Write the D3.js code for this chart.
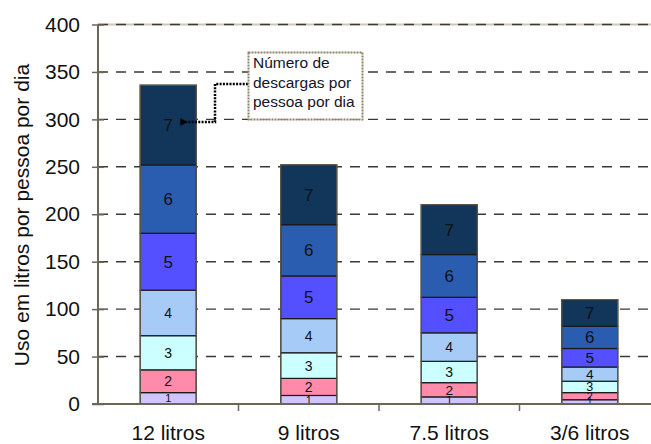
<!DOCTYPE html>
<html><head><meta charset="utf-8">
<script src="https://cdn.jsdelivr.net/npm/d3@7"></script>
<style>body{margin:0;background:#fff}svg{display:block}text{font-family:"Liberation Sans",Arial,sans-serif}</style>
</head><body><svg id="c" width="651" height="444"></svg>
<script>
const categories = ["12 litros", "9 litros", "7.5 litros", "3/6 litros"];
const seriesNames = ["1", "2", "3", "4", "5", "6", "7"];
const v12 = [12, 24, 36, 48, 60, 72, 84];
const v9 = [9, 18, 27, 36, 45, 54, 63];
const v75 = [7.5, 15, 22.5, 30, 37.5, 45, 52.5];
const v36 = [4.5, 7.5, 12, 15, 19.5, 23.5, 28];
const yTicks = [0, 50, 100, 150, 200, 250, 300, 350, 400];
const colors = ["#d0c4fc", "#ff8aaa", "#ccffff", "#a6cbf6", "#5550ff", "#2a5cb0", "#12355a"];
const baseFont = [11, 14, 14, 14, 17, 17, 17];
const noteLines = ["Número de", "descargas por", "pessoa por dia"];
const yTitle = "Uso em litros por pessoa por dia";

const values = [v12, v9, v75, v36];
const rows = categories.map((c, i) => {
  const o = {cat: c};
  seriesNames.forEach((s, k) => o[s] = values[i][k]);
  return o;
});
const stacked = d3.stack().keys(seriesNames)(rows);

const svg = d3.select("#c");
const x = d3.scaleBand().domain(categories).range([98, 660]).paddingInner(0).paddingOuter(0);
const y = d3.scaleLinear().domain([0, 400]).range([404, 24.5]);
const barW = 56;

// gridlines
const g = svg.append("g");
g.append("line").attr("x1", 98).attr("x2", 651).attr("y1", y(400)).attr("y2", y(400))
  .attr("stroke", "#cfc8b0").attr("stroke-width", 2);
g.selectAll("line.grid").data(yTicks.filter(d => d > 0)).join("line").attr("class", "grid")
  .attr("x1", 98).attr("x2", 651).attr("y1", d => y(d)).attr("y2", d => y(d))
  .attr("stroke", "#3a3a32").attr("stroke-width", 1.4).attr("stroke-dasharray", "10,8");

// bars
const layers = svg.append("g").selectAll("g").data(stacked).join("g")
  .attr("fill", (d, i) => colors[i]);
layers.selectAll("rect").data(d => d.map(p => ({p, key: d.key}))).join("rect")
  .attr("x", d => x(d.p.data.cat) + x.bandwidth() / 2 - barW / 2)
  .attr("width", barW)
  .attr("y", d => y(d.p[1]))
  .attr("height", d => y(d.p[0]) - y(d.p[1]))
  .attr("stroke", "#1a1a1a").attr("stroke-width", 1.2);
// outer outline
svg.append("g").selectAll("rect").data(rows).join("rect")
  .attr("x", d => x(d.cat) + x.bandwidth() / 2 - barW / 2)
  .attr("width", barW)
  .attr("y", (d, i) => y(stacked[6][i][1]))
  .attr("height", (d, i) => y(0) - y(stacked[6][i][1]))
  .attr("fill", "none").attr("stroke", "#5e5c4e").attr("stroke-width", 1.2);

// labels
svg.append("g").selectAll("g").data(stacked).join("g")
  .selectAll("text").data((d, k) => d.map(p => ({p, k}))).join("text")
  .attr("x", d => x(d.p.data.cat) + x.bandwidth() / 2)
  .attr("y", d => (y(d.p[0]) + y(d.p[1])) / 2)
  .attr("text-anchor", "middle").attr("dy", "0.36em")
  .attr("font-size", d => {
    const h = y(d.p[0]) - y(d.p[1]);
    return Math.max(10, Math.min(baseFont[d.k], 8 + h * 0.4)) + "px";
  })
  .attr("fill", "#111")
  .text(d => seriesNames[d.k]);

// y axis
const ya = svg.append("g").attr("transform", "translate(98,0)")
  .call(d3.axisLeft(y).tickValues(yTicks).tickSize(6).tickPadding(12));
ya.select(".domain").attr("stroke", "#6b6656").attr("stroke-width", 2).attr("d", `M0,${y(0)}V${y(400)}`);
ya.selectAll(".tick line").attr("x1", -6).attr("x2", 6).attr("stroke", "#6b6656").attr("stroke-width", 1.5);
ya.selectAll(".tick text").attr("font-size", "21px").attr("fill", "#111")
  .attr("font-family", '"Liberation Sans",Arial,sans-serif').attr("x", -18);

// x axis
const xa = svg.append("g").attr("transform", `translate(0,${y(0)})`)
  .call(d3.axisBottom(x).tickSize(0).tickPadding(30));
xa.select(".domain").attr("stroke", "#6b6656").attr("stroke-width", 2).attr("d", "M92,0H651");
xa.selectAll(".tick text").attr("font-size", "21px").attr("fill", "#111")
  .attr("font-family", '"Liberation Sans",Arial,sans-serif').attr("dy", "0.3em");
xa.selectAll("line.sep").data(categories.slice(1)).join("line").attr("class", "sep")
  .attr("x1", d => x(d)).attr("x2", d => x(d)).attr("y1", 0).attr("y2", 7)
  .attr("stroke", "#6b6656").attr("stroke-width", 1.5);

// y title
svg.append("text").attr("transform", "translate(22,215) rotate(-90)")
  .attr("text-anchor", "middle").attr("dy", "0.35em").attr("font-size", "21px").attr("fill", "#111")
  .text(yTitle);

// annotation
const defs = svg.append("defs");
defs.append("marker").attr("id", "ah").attr("viewBox", "0 0 10 10").attr("refX", 2).attr("refY", 5)
  .attr("markerWidth", 3).attr("markerHeight", 3).attr("orient", "auto")
  .append("path").attr("d", "M10,0L0,5L10,10z").attr("fill", "#000");
const tipX = x(categories[0]) + x.bandwidth() / 2 + 14;
const tipY = y(v12.slice(0, 6).reduce((a, b) => a + b, 0) + v12[6] / 2) - 3;
svg.append("path").attr("d", `M248,84H215V${tipY}H${tipX + 4}`)
  .attr("fill", "none").attr("stroke", "#000").attr("stroke-width", 2.5)
  .attr("stroke-dasharray", "2,1.3").attr("marker-end", "url(#ah)");
svg.append("rect").attr("x", 248.5).attr("y", 52.5).attr("width", 114).attr("height", 67)
  .attr("fill", "#fff").attr("stroke", "#8c8468").attr("stroke-width", 2).attr("stroke-dasharray", "2,1");
svg.append("g").selectAll("text").data(noteLines).join("text")
  .attr("x", 253).attr("y", (d, i) => 68 + i * 19.5)
  .attr("font-size", "15.5px").attr("fill", "#14142a").text(d => d);
</script></body></html>
